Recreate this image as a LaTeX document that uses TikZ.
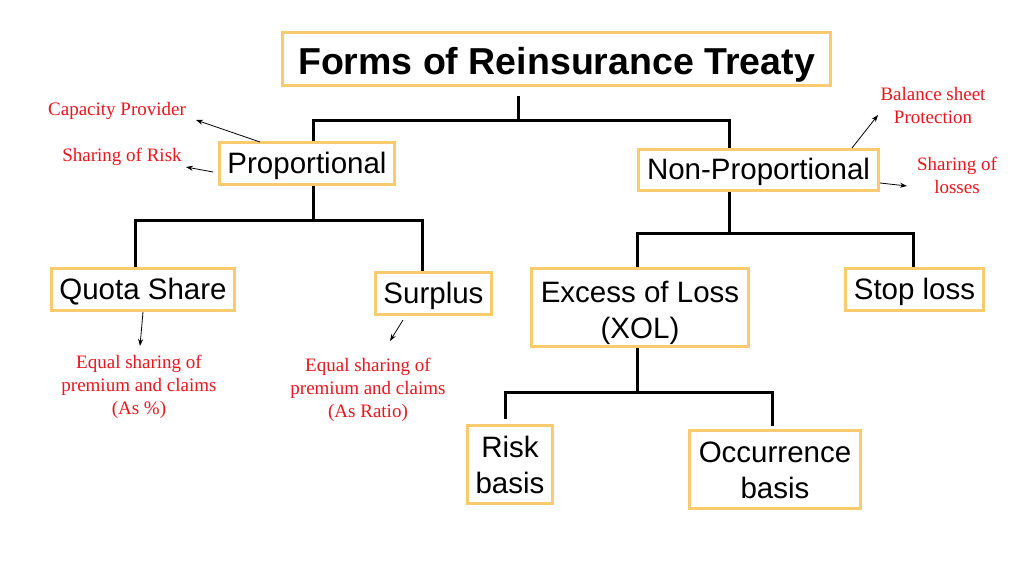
\documentclass[tikz,border=0pt]{standalone}
\usepackage{fontspec}
\setmainfont{Liberation Serif}
\newfontfamily\boxfont{Liberation Sans}
\usetikzlibrary{arrows.meta}
\definecolor{boxor}{RGB}{249,203,112}
\definecolor{annred}{RGB}{232,22,30}
\begin{document}
\begin{tikzpicture}[x=1pt,y=-1pt,
  box/.style={draw=boxor, line width=3pt, inner sep=0pt, align=center, text=black,
    font=\boxfont\fontsize{29.5}{36}\selectfont},
  onebox/.style={box, text height=25pt, text depth=6pt},
  twobox/.style={box, text height=64pt, text depth=7pt},
  tree/.style={line width=3pt, black},
  ann/.style={text=annred, align=center, font=\fontsize{19}{23}\selectfont},
  pt/.style={-{Stealth[length=7pt,width=5pt]}, line width=0.8pt, black}]
\useasboundingbox (0,0) rectangle (1024,576);
\fill[white] (0,0) rectangle (1024,576);

% boxes
\node[box, minimum width=548pt, minimum height=53pt, text height=34pt, text depth=4pt,
  font=\boxfont\bfseries\fontsize{37.5}{42}\selectfont] (title) at (556.5,59) {Forms of Reinsurance Treaty};
\node[onebox, minimum width=175pt, minimum height=42pt] (prop) at (307,163.5) {Proportional};
\node[onebox, minimum width=240pt, minimum height=41pt] (nonp) at (758.5,170) {Non-Proportional};
\node[onebox, minimum width=183pt, minimum height=42pt] (quota) at (143,289.5) {Quota Share};
\node[onebox, minimum width=116pt, minimum height=42pt] (surplus) at (433.5,293.5) {Surplus};
\node[twobox, text height=68pt, minimum width=217pt, minimum height=78pt] (xol) at (640,307.5) {Excess of Loss\\(XOL)};
\node[onebox, minimum width=138pt, minimum height=42pt] (stop) at (914.5,289.5) {Stop loss};
\node[twobox, minimum width=85pt, minimum height=78pt] (risk) at (510,464.5) {Risk\\basis};
\node[twobox, minimum width=171pt, minimum height=78pt] (occ) at (775,469.5) {Occurrence\\basis};

% tree connectors
\coordinate (t0) at (518,96);
\coordinate (j1) at (518,120);
\coordinate (pL) at (313,120);
\coordinate (pR) at (729,120);
\draw[tree] (t0) -- (j1);
\draw[tree] (pL |- prop.north) -- (pL) -- (pR) -- (pR |- nonp.north);

\coordinate (j2) at (313,220);
\coordinate (qL) at (135,220);
\coordinate (qR) at (422,220);
\draw[tree] (prop.south -| j2) -- (j2);
\draw[tree] (qL |- quota.north) -- (qL) -- (qR) -- (qR |- surplus.north);

\coordinate (j3) at (729,233);
\coordinate (xL) at (637,233);
\coordinate (xR) at (913,233);
\draw[tree] (nonp.south -| j3) -- (j3);
\draw[tree] (xL |- xol.north) -- (xL) -- (xR) -- (xR |- stop.north);

\coordinate (j4) at (637,392);
\coordinate (rL) at (505,392);
\coordinate (rR) at (772,392);
\coordinate (rLe) at (505,419);
\coordinate (rRe) at (772,426);
\draw[tree] (xol.south -| j4) -- (j4);
\draw[tree] (rLe) -- (rL) -- (rR) -- (rRe);

% annotations
\node[ann] (cap) at (117,111) {Capacity Provider};
\node[ann] (sor) at (122,157) {Sharing of Risk};
\node[ann] (bal) at (933,105) {Balance sheet\\Protection};
\node[ann] (sol) at (957,175) {Sharing of\\losses};
\node[ann] (qann) at (139,387) {Equal sharing of\\premium and claims\\(As \%)};
\node[ann] (sann) at (368,390) {Equal sharing of\\premium and claims\\(As Ratio)};

\coordinate (capS) at (260,142);
\coordinate (capE) at (196,120);
\coordinate (sorS) at (213,172);
\coordinate (sorE) at (186,167);
\coordinate (balS) at (852,148);
\coordinate (balE) at (878,115);
\coordinate (solS) at (880,183);
\coordinate (solE) at (907,186);
\coordinate (qS) at (143,312);
\coordinate (qE) at (140,346);
\coordinate (sS) at (403,320);
\coordinate (sE) at (390,341);
\draw[pt] (capS) -- (capE);
\draw[pt] (sorS) -- (sorE);
\draw[pt] (balS) -- (balE);
\draw[pt] (solS) -- (solE);
\draw[pt] (qS) -- (qE);
\draw[pt] (sS) -- (sE);
\end{tikzpicture}
\end{document}
